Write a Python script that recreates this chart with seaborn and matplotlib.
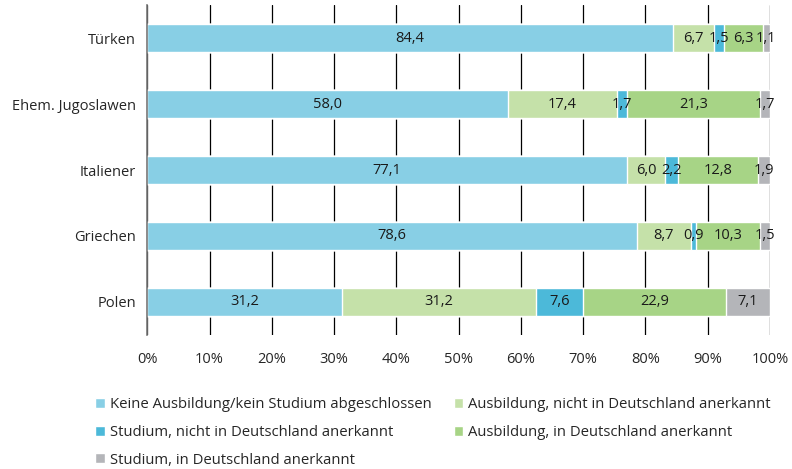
import numpy as np
import pandas as pd
import seaborn as sns
import matplotlib.pyplot as plt
from matplotlib.ticker import FixedLocator

# Daten (Anteile in %)
gruppen = ["Türken", "Ehem. Jugoslawen", "Italiener", "Griechen", "Polen"]
keine_ausbildung = [84.4, 58.0, 77.1, 78.6, 31.2]
ausbildung_nicht_anerkannt = [6.7, 17.4, 6.0, 8.7, 31.2]
studium_nicht_anerkannt = [1.5, 1.7, 2.2, 0.9, 7.6]
ausbildung_anerkannt = [6.3, 21.3, 12.8, 10.3, 22.9]
studium_anerkannt = [1.1, 1.7, 1.9, 1.5, 7.1]

kategorien = [
    "Keine Ausbildung/kein Studium abgeschlossen",
    "Ausbildung, nicht in Deutschland anerkannt",
    "Studium, nicht in Deutschland anerkannt",
    "Ausbildung, in Deutschland anerkannt",
    "Studium, in Deutschland anerkannt",
]
farben = ["#88cfe5", "#c5e1a9", "#4cb9d9", "#a7d486", "#b4b5b9"]

df = pd.DataFrame(
    dict(zip(kategorien, [keine_ausbildung, ausbildung_nicht_anerkannt,
                          studium_nicht_anerkannt, ausbildung_anerkannt,
                          studium_anerkannt])),
    index=gruppen,
)
kumuliert = df.cumsum(axis=1)

sns.set_style("white")
plt.rcParams["font.family"] = ["Open Sans", "DejaVu Sans"]

fig, ax = plt.subplots(figsize=(7.92, 4.69), dpi=100)
fig.subplots_adjust(left=0.186, right=0.972, top=0.989, bottom=0.286)

# gestapelte Balken: kumulierte Summen von hinten nach vorne zeichnen
for kat, farbe in reversed(list(zip(kategorien, farben))):
    sns.barplot(x=kumuliert[kat].values, y=gruppen, color=farbe, orient="h",
                width=0.42, saturation=1, ax=ax, label=kat, zorder=2)

# Beschriftungen in den Segmenten
for i, g in enumerate(gruppen):
    for kat in kategorien:
        wert = df.loc[g, kat]
        mitte = kumuliert.loc[g, kat] - wert / 2
        ax.text(mitte, i, f"{wert:.1f}".replace(".", ","), ha="center",
                va="center", fontsize=10.5, color="#1a1a1a", zorder=3)

ax.set_xlim(0, 100)
ax.set_ylim(4.5, -0.5)
ax.set_xticks(np.arange(0, 101, 10))
ax.set_xticklabels([f"{v}%" for v in range(0, 101, 10)], fontsize=10.5)
ax.tick_params(axis="x", length=0, pad=12)
ax.tick_params(axis="y", which="major", length=0, pad=8, labelsize=10.5)
ax.yaxis.set_minor_locator(FixedLocator(np.arange(-0.5, 5, 1)))
ax.tick_params(axis="y", which="minor", length=5, color="#555555", width=1)
ax.grid(axis="x", color="black", linewidth=0.9, zorder=0)
ax.set_axisbelow(True)
ax.set_xlabel("")
ax.set_ylabel("")
for s in ["top", "right", "bottom"]:
    ax.spines[s].set_visible(False)
ax.spines["left"].set_color("#777777")
ax.spines["left"].set_linewidth(1.2)

# Legende unterhalb
handles, labels = ax.get_legend_handles_labels()
lookup = dict(zip(labels, handles))
reihenfolge = [kategorien[0], kategorien[2], kategorien[4], kategorien[1], kategorien[3]]
if ax.get_legend():
    ax.get_legend().remove()
fig.legend([lookup[l] for l in reihenfolge], reihenfolge, loc="upper left",
           bbox_to_anchor=(0.113, 0.166), ncol=2, frameon=False,
           fontsize=10.7, handlelength=0.65, handleheight=0.65,
           handletextpad=0.3, columnspacing=1.5, labelspacing=0.86,
           borderaxespad=0)

plt.savefig("out.png", dpi=100)
